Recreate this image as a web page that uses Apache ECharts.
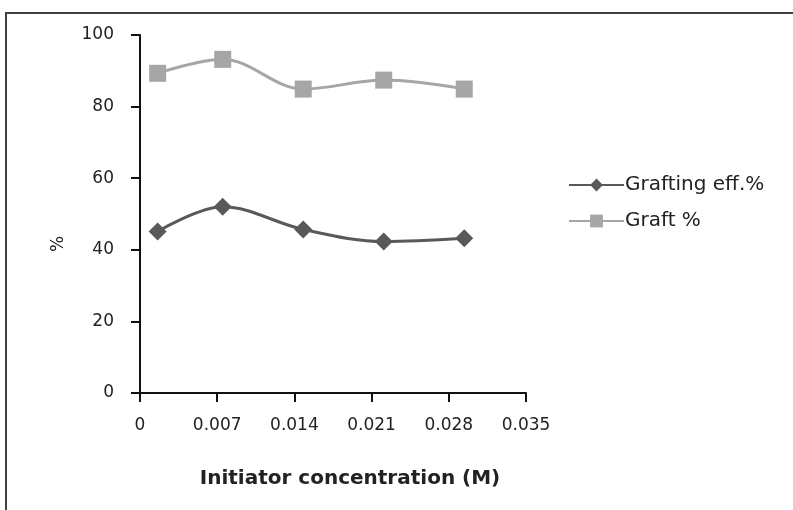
<!DOCTYPE html>
<html>
<head>
<meta charset="utf-8">
<script src="https://cdn.jsdelivr.net/npm/echarts@6/dist/echarts.min.js"></script>
<style>
  html, body { margin: 0; padding: 0; background: #fff; }
  #chart { width: 793px; height: 510px; }
</style>
</head>
<body>
<div id="chart"></div>
<script>
// Initiator concentration (M)
const concentration = [0.0016, 0.0075, 0.0148, 0.0221, 0.0294];
// Grafting efficiency, %
const graftingEff = [45.1, 52.0, 45.7, 42.3, 43.2];
// Graft, %
const graftPct = [89.3, 93.2, 84.9, 87.4, 84.9];

const xTicks = [0, 0.007, 0.014, 0.021, 0.028, 0.035];
const yTicks = [0, 20, 40, 60, 80, 100];

const pairs = (xs, ys) => xs.map((x, i) => [x, ys[i]]);

const chart = echarts.init(document.getElementById('chart'), null, { renderer: 'canvas' });
const FONT = 'DejaVu Sans';
const labelFont = { fontFamily: FONT, fontSize: 17, color: '#222' };

chart.setOption({
  animation: false,
  backgroundColor: '#fff',
  graphic: [{
    type: 'rect',
    shape: { x: 6, y: 13, width: 900, height: 600 },
    style: { fill: 'none', stroke: '#404040', lineWidth: 2 },
    silent: true
  }],
  grid: { left: 140, top: 35, width: 386, height: 358 },
  legend: {
    orient: 'vertical',
    left: 563,
    top: 170,
    itemGap: 16,
    itemWidth: 55,
    itemHeight: 16,
    textStyle: { fontFamily: FONT, fontSize: 20, color: '#222', padding: [0, 0, 0, -4] },
    data: ['Grafting eff.%', 'Graft %']
  },
  xAxis: {
    type: 'value',
    min: 0,
    max: 0.035,
    interval: 0.007,
    name: 'Initiator concentration (M)',
    nameLocation: 'middle',
    nameGap: 76,
    nameTextStyle: { fontFamily: FONT, fontSize: 20, fontWeight: 'bold', color: '#222', padding: [0, 0, 0, 34] },
    axisLine: { show: true, lineStyle: { color: '#111', width: 2 } },
    axisTick: { show: true, inside: false, length: 9, lineStyle: { color: '#111', width: 2 } },
    splitLine: { show: false },
    axisLabel: Object.assign({
      margin: 24,
      formatter: v => {
        const t = xTicks.find(k => Math.abs(k - v) < 1e-9);
        return t === 0 ? '0' : (t !== undefined ? t.toFixed(3) : '');
      }
    }, labelFont)
  },
  yAxis: {
    type: 'value',
    min: 0,
    max: 100,
    interval: 20,
    name: '%',
    nameLocation: 'middle',
    nameGap: 73,
    nameRotate: 90,
    nameTextStyle: { fontFamily: FONT, fontSize: 17, color: '#222', padding: [0, 60, 0, 0] },
    axisLine: { show: true, lineStyle: { color: '#111', width: 2 } },
    axisTick: { show: true, inside: false, length: 9, lineStyle: { color: '#111', width: 2 } },
    splitLine: { show: false },
    axisLabel: Object.assign({
      margin: 26,
      formatter: v => (yTicks.includes(v) ? String(v) : '')
    }, labelFont)
  },
  series: [
    {
      name: 'Grafting eff.%',
      type: 'line',
      smooth: 0.35,
      data: pairs(concentration, graftingEff),
      symbol: 'diamond',
      symbolSize: 18,
      lineStyle: { color: '#595959', width: 3 },
      itemStyle: { color: '#595959' }
    },
    {
      name: 'Graft %',
      type: 'line',
      smooth: 0.35,
      data: pairs(concentration, graftPct),
      symbol: 'rect',
      symbolSize: 17,
      lineStyle: { color: '#A6A6A6', width: 3 },
      itemStyle: { color: '#A6A6A6' }
    }
  ]
});
</script>
</body>
</html>
